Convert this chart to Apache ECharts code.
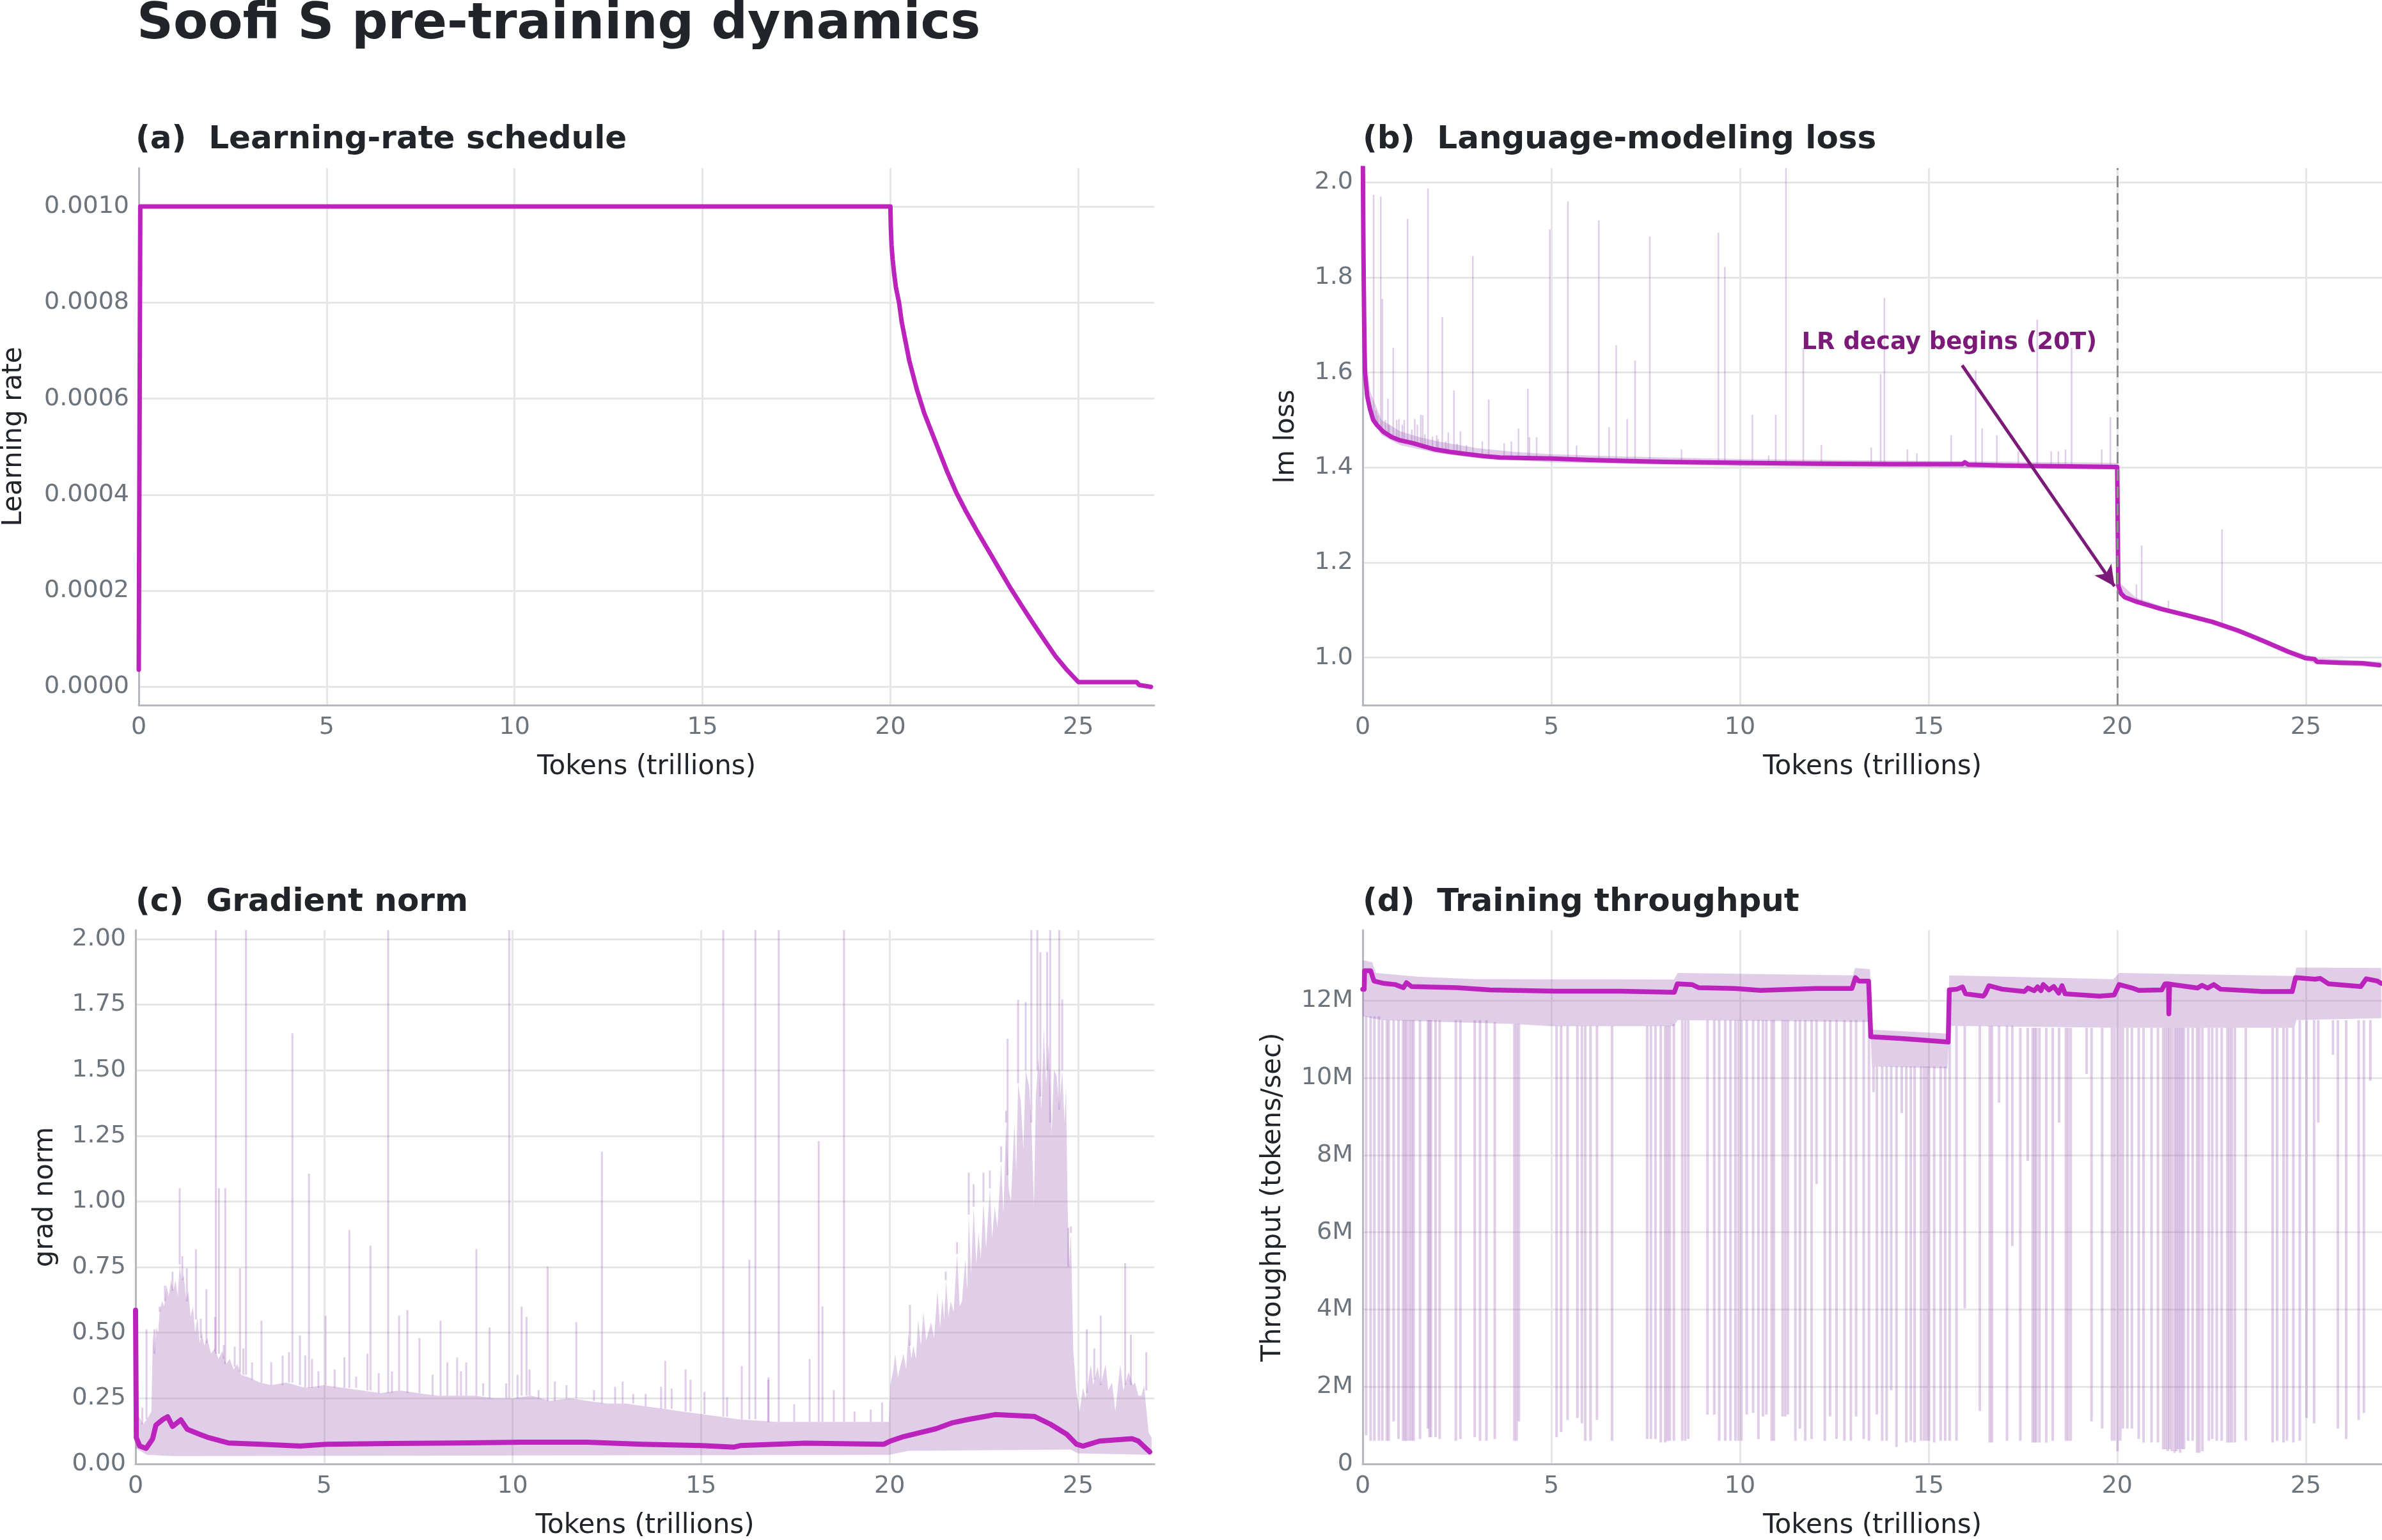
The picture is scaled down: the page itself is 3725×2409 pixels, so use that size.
<!DOCTYPE html>
<html>
<head>
<meta charset="utf-8">
<title>Soofi S pre-training dynamics</title>
<script src="https://cdn.jsdelivr.net/npm/echarts@6/dist/echarts.min.js"></script>
<style>
  html, body { margin: 0; padding: 0; background: #fff; }
  #chart { width: 3725px; height: 2409px; }
</style>
</head>
<body>
<div id="chart"></div>
<script>
// values, x in trillions of tokens

var xTicks = [0, 5, 10, 15, 20, 25];
var lrTicks = [0, 0.0002, 0.0004, 0.0006, 0.0008, 0.0010];
var lossTicks = [1.0, 1.2, 1.4, 1.6, 1.8, 2.0];
var gradTicks = [0, 0.25, 0.5, 0.75, 1.0, 1.25, 1.5, 1.75, 2.0];
var tputTicks = [0, 2, 4, 6, 8, 10, 12]; // millions of tokens/sec

// (a) learning rate
var lrCurve = [[0, 0.000036], [0.04, 0.001], [20.0, 0.001], [20.01, 0.00096], [20.03, 0.00092],
  [20.06, 0.00089], [20.1, 0.00086], [20.15, 0.00083], [20.23, 0.0008], [20.3, 0.00076],
  [20.4, 0.00072], [20.5, 0.00068], [20.7, 0.00062], [20.9, 0.00057], [21.2, 0.00051],
  [21.5, 0.00045], [21.75, 0.000405], [22.0, 0.000367], [22.3, 0.000325], [22.6, 0.000285],
  [22.9, 0.000245], [23.2, 0.000205], [23.5, 0.000168], [23.8, 0.000132], [24.1, 0.000097],
  [24.4, 0.000063], [24.7, 0.000035], [25.0, 0.00001], [26.55, 0.00001], [26.62, 0.000004],
  [26.93, 0.0]];

// (b) language-modeling loss
var lossCurve = [[0, 2.1], [0.02, 1.85], [0.04, 1.7], [0.06, 1.6], [0.12, 1.55], [0.19, 1.524],
  [0.28, 1.5], [0.38, 1.489], [0.55, 1.475], [0.77, 1.464], [1.0, 1.457], [1.34, 1.451],
  [1.6, 1.445], [1.92, 1.438], [2.3, 1.433], [2.69, 1.429], [3.2, 1.424], [3.65, 1.421],
  [4.3, 1.42], [5.0, 1.419], [6.0, 1.416], [6.92, 1.414], [8.0, 1.412], [9.0, 1.411],
  [10.0, 1.41], [12.0, 1.408], [14.0, 1.407], [15.9, 1.407], [15.96, 1.411], [16.05, 1.406],
  [17.0, 1.404], [18.0, 1.403], [19.0, 1.402], [20.0, 1.401], [20.03, 1.151], [20.1, 1.135],
  [20.2, 1.127], [20.5, 1.118], [21.18, 1.102], [21.85, 1.089], [22.53, 1.075], [23.2, 1.057],
  [23.88, 1.035], [24.55, 1.012], [24.99, 0.999], [25.23, 0.997], [25.3, 0.991], [25.9, 0.989],
  [26.5, 0.988], [26.95, 0.984]];
var lossBandPreUpper = [[0.05, 1.66], [0.2, 1.56], [0.5, 1.5], [1, 1.476], [1.5, 1.464], [2, 1.455],
  [3, 1.441], [4, 1.433], [5, 1.428], [7, 1.423], [10, 1.418], [15, 1.414], [20, 1.41]];
var lossBandPreLower = [[0.05, 1.58], [0.2, 1.51], [0.5, 1.468], [1, 1.447], [2, 1.43], [3, 1.42],
  [5, 1.411], [10, 1.403], [15, 1.4], [20, 1.396]];
var lossBandPostUpper = [[20.03, 1.16], [20.5, 1.126], [21.5, 1.1], [22.5, 1.08], [23.5, 1.053],
  [24.5, 1.018], [25, 1.006], [25.3, 0.999], [27, 0.991]];
var lossBandPostLower = [[20.03, 1.14], [20.5, 1.112], [21.5, 1.093], [22.5, 1.07], [23.5, 1.043],
  [24.5, 1.007], [25, 0.994], [25.3, 0.986], [27, 0.979]];
// [x, from, to]
var lossSpikes = [[0.29, 1.5, 1.974], [0.48, 1.475, 1.97], [0.52, 1.474, 1.755], [0.67, 1.468, 1.545],
  [0.81, 1.464, 1.652], [0.96, 1.459, 1.502], [1.19, 1.454, 1.923], [1.38, 1.451, 1.502],
  [1.54, 1.447, 1.511], [1.59, 1.446, 1.51], [1.73, 1.443, 1.987], [1.96, 1.438, 1.468],
  [2.11, 1.436, 1.717], [2.27, 1.434, 1.474], [2.42, 1.432, 1.562], [2.59, 1.43, 1.476],
  [2.92, 1.427, 1.845], [3.17, 1.425, 1.455], [3.34, 1.424, 1.543], [3.75, 1.421, 1.451],
  [3.94, 1.421, 1.455], [4.13, 1.42, 1.482], [4.38, 1.42, 1.566], [4.42, 1.42, 1.464],
  [4.61, 1.42, 1.464], [4.96, 1.419, 1.901], [5.44, 1.418, 1.96], [5.67, 1.418, 1.446],
  [6.26, 1.416, 1.92], [6.53, 1.415, 1.485], [6.72, 1.415, 1.657], [7.01, 1.414, 1.502],
  [7.22, 1.414, 1.625], [7.61, 1.413, 1.886], [8.45, 1.412, 1.438], [9.43, 1.411, 1.894],
  [9.6, 1.411, 1.822], [10.33, 1.41, 1.511], [10.76, 1.41, 1.425], [10.95, 1.41, 1.511],
  [11.22, 1.409, 2.1], [11.68, 1.409, 1.652], [12.16, 1.408, 1.448], [13.48, 1.407, 1.442],
  [13.73, 1.407, 1.597], [13.83, 1.407, 1.757], [14.44, 1.407, 1.438], [14.69, 1.407, 1.43],
  [15.6, 1.407, 1.468], [16.25, 1.406, 1.605], [16.42, 1.406, 1.482], [16.81, 1.405, 1.468],
  [17.38, 1.404, 1.434], [17.88, 1.404, 1.711], [18.25, 1.403, 1.434], [18.44, 1.403, 1.434],
  [18.63, 1.403, 1.438], [18.79, 1.402, 1.652], [19.59, 1.402, 1.438], [19.82, 1.401, 1.506],
  [0.35, 1.49, 1.52], [0.4, 1.485, 1.51], [0.6, 1.47, 1.5], [0.7, 1.466, 1.49], [0.9, 1.46, 1.5],
  [1.05, 1.456, 1.49], [1.1, 1.455, 1.5], [1.3, 1.452, 1.48], [1.45, 1.449, 1.49], [1.65, 1.445, 1.47],
  [1.85, 1.44, 1.465], [2.0, 1.437, 1.46], [2.2, 1.434, 1.455], [2.5, 1.431, 1.45], [2.75, 1.429, 1.447],
  [20.51, 1.118, 1.154], [20.65, 1.115, 1.236], [21.36, 1.1, 1.12], [22.78, 1.07, 1.27]];

// (c) gradient norm
var gradCurve = [[0, 0.586], [0.02, 0.1], [0.11, 0.068], [0.28, 0.059], [0.45, 0.095], [0.54, 0.148],
  [0.71, 0.168], [0.85, 0.18], [0.98, 0.143], [1.2, 0.168], [1.37, 0.132], [1.68, 0.114],
  [1.94, 0.1], [2.46, 0.08], [3.33, 0.075], [4.37, 0.068], [5.06, 0.075], [6.79, 0.078],
  [8.52, 0.08], [10.25, 0.083], [11.98, 0.083], [13.44, 0.075], [15.0, 0.07], [15.87, 0.064],
  [16.04, 0.07], [17.77, 0.079], [19.85, 0.075], [20.02, 0.087], [20.37, 0.104], [20.8, 0.119],
  [21.23, 0.134], [21.67, 0.157], [22.1, 0.17], [22.53, 0.181], [22.8, 0.188], [23.4, 0.184],
  [23.84, 0.181], [24.27, 0.151], [24.7, 0.113], [24.96, 0.075], [25.13, 0.068], [25.57, 0.087],
  [26.43, 0.096], [26.6, 0.087], [26.9, 0.046]];
var gradBandUpper = [[0, 0.12], [0.1, 0.18], [0.2, 0.15], [0.3, 0.17], [0.42, 0.2], [0.46, 0.5],
  [0.5, 0.42], [0.55, 0.52], [0.6, 0.5], [0.64, 0.58], [0.7, 0.62], [0.76, 0.6], [0.82, 0.68],
  [0.88, 0.64], [0.94, 0.7], [1.0, 0.66], [1.06, 0.7], [1.12, 0.64], [1.17, 0.76], [1.22, 0.7],
  [1.28, 0.72], [1.34, 0.62], [1.4, 0.66], [1.46, 0.56], [1.52, 0.6], [1.58, 0.5], [1.64, 0.56],
  [1.7, 0.46], [1.76, 0.5], [1.82, 0.45], [1.9, 0.48], [2.0, 0.42], [2.1, 0.44], [2.2, 0.4],
  [2.3, 0.43], [2.4, 0.38], [2.5, 0.4], [2.6, 0.36], [2.7, 0.38], [2.8, 0.34], [3.0, 0.33],
  [3.3, 0.31], [3.6, 0.3], [4.0, 0.31], [4.5, 0.29], [5.0, 0.3], [5.5, 0.29], [6.0, 0.28],
  [6.5, 0.27], [7.0, 0.28], [7.5, 0.27], [8.0, 0.26], [9.0, 0.26], [9.5, 0.25], [10.0, 0.25],
  [10.5, 0.26], [11.0, 0.24], [11.5, 0.25], [12.0, 0.24], [12.5, 0.23], [13.0, 0.23], [13.5, 0.22],
  [14.0, 0.21], [14.5, 0.2], [15.0, 0.19], [15.5, 0.18], [16.0, 0.17], [17.0, 0.16], [19.0, 0.16],
  [19.98, 0.16], [20.02, 0.3], [20.1, 0.36], [20.15, 0.42], [20.22, 0.33], [20.3, 0.38],
  [20.37, 0.42], [20.44, 0.36], [20.5, 0.5], [20.58, 0.4], [20.63, 0.45], [20.7, 0.4], [20.76, 0.55],
  [20.83, 0.45], [20.9, 0.58], [20.97, 0.47], [21.1, 0.54], [21.18, 0.48], [21.27, 0.66],
  [21.34, 0.52], [21.4, 0.63], [21.45, 0.55], [21.5, 0.7], [21.56, 0.56], [21.62, 0.62], [21.7, 0.58],
  [21.79, 0.8], [21.86, 0.6], [21.92, 0.62], [22.01, 0.78], [22.06, 0.66], [22.1, 0.95], [22.16, 0.72],
  [22.23, 0.98], [22.3, 0.76], [22.36, 0.88], [22.42, 0.78], [22.49, 1.0], [22.56, 0.82], [22.66, 1.05],
  [22.72, 0.86], [22.79, 0.98], [22.86, 0.9], [22.96, 1.15], [23.02, 0.95], [23.09, 1.3], [23.16, 1.05],
  [23.22, 1.0], [23.31, 1.3], [23.36, 1.12], [23.41, 1.45], [23.48, 1.38], [23.55, 1.2], [23.61, 1.5],
  [23.7, 1.44], [23.76, 1.3], [23.83, 0.98], [23.88, 1.4], [23.95, 1.55], [24.03, 1.35], [24.09, 1.66],
  [24.15, 1.45], [24.22, 1.6], [24.3, 1.26], [24.36, 1.5], [24.43, 1.48], [24.5, 1.35], [24.58, 1.5],
  [24.64, 1.3], [24.68, 1.44], [24.72, 1.0], [24.76, 0.75], [24.81, 0.88], [24.87, 0.44], [24.95, 0.28],
  [25.04, 0.2], [25.13, 0.29], [25.2, 0.25], [25.34, 0.38], [25.4, 0.3], [25.52, 0.37], [25.6, 0.3],
  [25.73, 0.38], [25.8, 0.28], [25.9, 0.31], [25.99, 0.2], [26.06, 0.3], [26.12, 0.38], [26.2, 0.28],
  [26.34, 0.35], [26.45, 0.3], [26.51, 0.31], [26.6, 0.26], [26.68, 0.26], [26.75, 0.3], [26.87, 0.12],
  [26.95, 0.1]];
var gradBandLower = [[0, 0.06], [0.3, 0.035], [1, 0.03], [20, 0.035], [20.5, 0.05], [24.8, 0.055],
  [25, 0.04], [26.95, 0.035]];
var gradSpikes = [[2.13, 0.42, 2.2], [2.93, 0.34, 2.2], [6.7, 0.27, 2.2], [9.91, 0.25, 2.2],
  [15.59, 0.18, 2.2], [16.44, 0.17, 2.2], [17.06, 0.16, 2.2], [18.79, 0.16, 2.2],
  [1.17, 0.76, 1.051], [1.24, 0.7, 0.792], [1.6, 0.55, 0.818], [2.21, 0.42, 1.051],
  [2.38, 0.38, 1.051], [2.77, 0.35, 0.745], [3.34, 0.31, 0.546], [4.16, 0.31, 1.641],
  [4.36, 0.3, 0.49], [4.6, 0.29, 1.106], [5.04, 0.3, 0.565], [5.67, 0.29, 0.891],
  [6.23, 0.28, 0.832], [6.99, 0.28, 0.565], [7.21, 0.27, 0.586], [8.09, 0.26, 0.546],
  [9.04, 0.26, 0.819], [9.39, 0.25, 0.52], [10.24, 0.26, 0.6], [10.37, 0.26, 0.56],
  [10.93, 0.24, 0.752], [11.69, 0.25, 0.54], [12.37, 0.23, 1.19], [16.28, 0.17, 0.778],
  [16.79, 0.16, 0.33], [17.88, 0.16, 0.4], [18.12, 0.16, 1.23], [18.22, 0.16, 0.6],
  [0.18, 0.15, 0.214], [0.29, 0.17, 0.513], [0.5, 0.42, 0.513], [0.64, 0.58, 0.6],
  [0.78, 0.62, 0.679], [0.98, 0.66, 0.732], [1.36, 0.62, 0.745], [1.73, 0.48, 0.553],
  [1.88, 0.46, 0.666], [2.11, 0.43, 0.56], [2.34, 0.4, 0.453], [2.63, 0.37, 0.447],
  [2.86, 0.34, 0.44], [3.09, 0.32, 0.387], [3.6, 0.3, 0.387], [3.9, 0.3, 0.413],
  [4.07, 0.31, 0.426], [4.5, 0.29, 0.413], [4.68, 0.29, 0.4], [4.85, 0.29, 0.353], [5.28, 0.29, 0.36],
  [5.54, 0.29, 0.406], [5.85, 0.29, 0.333], [6.15, 0.28, 0.42], [6.45, 0.27, 0.346],
  [6.8, 0.27, 0.353], [7.53, 0.27, 0.48], [7.88, 0.26, 0.34], [8.27, 0.26, 0.387],
  [8.53, 0.26, 0.406], [8.63, 0.26, 0.353], [8.77, 0.26, 0.387], [9.22, 0.26, 0.307],
  [9.83, 0.25, 0.307], [10.13, 0.25, 0.34], [10.45, 0.26, 0.36], [10.69, 0.25, 0.281],
  [11.12, 0.24, 0.314], [11.43, 0.25, 0.3], [12.16, 0.24, 0.281], [12.72, 0.23, 0.294],
  [12.92, 0.23, 0.314], [13.2, 0.23, 0.267], [13.53, 0.22, 0.267], [13.94, 0.21, 0.294],
  [14.05, 0.21, 0.393], [14.22, 0.21, 0.287], [14.59, 0.2, 0.36], [14.72, 0.2, 0.321],
  [15.09, 0.19, 0.274], [15.69, 0.18, 0.254], [16.08, 0.17, 0.373], [16.78, 0.16, 0.321],
  [17.47, 0.16, 0.227], [18.52, 0.16, 0.281], [19.07, 0.16, 0.2], [19.5, 0.16, 0.207],
  [19.8, 0.16, 0.234],
  [20.54, 0.45, 0.606], [21.49, 0.7, 0.733], [21.79, 0.8, 0.845], [22.1, 0.95, 1.11],
  [22.23, 0.98, 1.066], [22.49, 1.0, 1.11], [22.66, 1.05, 1.118], [22.96, 1.15, 1.21],
  [23.09, 1.3, 1.345], [23.13, 1.1, 1.62], [23.41, 1.45, 1.768], [23.61, 1.5, 1.76],
  [23.76, 1.3, 2.2], [23.92, 1.5, 2.2], [24.0, 1.4, 1.95], [24.18, 1.5, 1.95],
  [24.26, 1.3, 2.2], [24.5, 1.35, 2.2], [24.58, 1.5, 1.77], [24.74, 0.9, 0.752], [24.81, 0.88, 0.905],
  [25.23, 0.27, 0.513], [25.43, 0.32, 0.44], [25.6, 0.3, 0.565], [26.25, 0.3, 0.765],
  [26.4, 0.3, 0.493], [26.81, 0.28, 0.426]];

// (d) throughput, millions of tokens/sec
var tputCurve = [[0, 12.3], [0.04, 12.3], [0.05, 12.78], [0.21, 12.78], [0.3, 12.51], [0.56, 12.45],
  [0.86, 12.42], [1.08, 12.34], [1.16, 12.47], [1.29, 12.37], [2.5, 12.34], [3.37, 12.28],
  [5.1, 12.25], [6.83, 12.25], [8.26, 12.22], [8.34, 12.44], [8.73, 12.42], [8.9, 12.34],
  [9.86, 12.32], [10.55, 12.27], [12.02, 12.32], [12.97, 12.32], [13.06, 12.6], [13.15, 12.51],
  [13.41, 12.51], [13.47, 11.07], [14.33, 11.02], [15.52, 10.93], [15.55, 12.28], [15.75, 12.3],
  [15.9, 12.36], [15.98, 12.18], [16.45, 12.12], [16.5, 12.18], [16.6, 12.39], [16.95, 12.3],
  [17.54, 12.24], [17.63, 12.33], [17.8, 12.26], [17.89, 12.36], [17.98, 12.26], [18.04, 12.42],
  [18.19, 12.28], [18.32, 12.37], [18.45, 12.2], [18.54, 12.39], [18.62, 12.18], [19.53, 12.12],
  [19.92, 12.15], [20.05, 12.42], [20.4, 12.33], [20.57, 12.27], [21.18, 12.28], [21.27, 12.44],
  [21.36, 12.44], [21.37, 11.66], [21.39, 12.43], [22.13, 12.33], [22.25, 12.4], [22.4, 12.33],
  [22.56, 12.42], [22.74, 12.3], [23.86, 12.24], [24.64, 12.24], [24.73, 12.6], [25.25, 12.56],
  [25.38, 12.58], [25.6, 12.44], [26.46, 12.37], [26.6, 12.57], [26.9, 12.51], [27.0, 12.45]];
var tputBandUpper = [[0, 13.05], [0.25, 13.0], [0.35, 12.72], [1.5, 12.62], [3, 12.56], [8.25, 12.55],
  [8.35, 12.72], [13.0, 12.66], [13.05, 12.85], [13.45, 12.82], [13.5, 11.25], [15.5, 11.15],
  [15.55, 12.66], [19.9, 12.56], [20.05, 12.72], [24.7, 12.64], [24.75, 12.86], [27.0, 12.85]];
var tputBandLower = [[0, 11.6], [0.5, 11.5], [4, 11.4], [5, 11.34], [8.25, 11.34], [8.35, 11.5],
  [13.45, 11.45], [13.5, 10.3], [15.5, 10.25], [15.55, 11.35], [20, 11.3], [24.7, 11.3],
  [24.75, 11.5], [27.0, 11.55]];
var tputSpikes = [[0.09, 0.74, 11.6], [0.21, 0.6, 11.6], [0.31, 0.6, 11.6], [0.43, 0.6, 11.6],
  [0.52, 0.6, 11.5], [0.64, 0.6, 11.5], [0.69, 0.6, 11.5], [0.82, 1.1, 11.5], [0.95, 0.645, 11.5],
  [1.07, 0.6, 11.5], [1.12, 0.6, 11.5], [1.17, 0.6, 11.5], [1.24, 0.6, 11.5], [1.3, 0.6, 11.5],
  [1.35, 0.6, 11.5], [1.52, 0.645, 11.5], [1.73, 0.916, 11.5], [1.77, 0.69, 11.5], [1.81, 0.69, 11.5],
  [1.93, 0.69, 11.5], [2.04, 0.645, 11.5], [2.47, 0.6, 11.5], [2.59, 0.645, 11.5], [2.97, 0.69, 11.5],
  [3.11, 0.6, 11.5], [3.28, 0.6, 11.5], [3.5, 0.645, 11.45], [4.02, 0.6, 11.4], [4.08, 0.6, 11.4],
  [4.14, 1.1, 11.4], [5.14, 0.69, 11.35], [5.26, 0.825, 11.35], [5.43, 1.14, 11.35], [5.69, 1.19, 11.35],
  [5.81, 1.05, 11.35], [5.9, 0.6, 11.35], [6.04, 0.6, 11.35], [6.21, 1.14, 11.35], [6.61, 0.6, 11.35],
  [7.54, 0.645, 11.35], [7.64, 0.645, 11.35], [7.76, 0.645, 11.35], [7.9, 0.556, 11.35],
  [8.02, 0.556, 11.35], [8.08, 0.6, 11.35], [8.14, 0.6, 11.35], [8.25, 0.6, 11.4], [8.47, 0.6, 11.5],
  [8.55, 0.6, 11.5], [8.63, 0.645, 11.5], [9.14, 1.28, 11.5], [9.32, 1.28, 11.5], [9.45, 0.6, 11.5],
  [9.61, 0.6, 11.5], [9.75, 0.6, 11.5], [9.88, 0.6, 11.5], [9.96, 0.6, 11.5], [10.04, 0.6, 11.5],
  [10.18, 1.28, 11.5], [10.35, 1.32, 11.5], [10.49, 0.645, 11.5], [10.61, 1.23, 11.5], [10.7, 1.28, 11.5],
  [10.84, 0.6, 11.5], [10.9, 0.6, 11.5], [11.13, 1.23, 11.5], [11.2, 1.23, 11.5], [11.27, 1.28, 11.5],
  [11.47, 0.6, 11.5], [11.59, 0.916, 11.5], [11.73, 0.6, 11.5], [11.9, 0.645, 11.5], [12.03, 7.25, 11.5],
  [12.25, 0.6, 11.5], [12.39, 1.23, 11.5], [12.56, 0.645, 11.5], [12.77, 0.6, 11.5], [12.94, 0.6, 11.5],
  [13.08, 1.23, 11.5], [13.28, 0.645, 11.5], [13.42, 0.6, 11.5],
  [13.54, 9.63, 10.3], [13.63, 1.28, 10.3], [13.77, 0.6, 10.3], [13.89, 0.6, 10.3], [14.01, 1.91, 10.3],
  [14.15, 0.44, 10.3], [14.29, 9.09, 10.3], [14.41, 0.556, 10.3], [14.53, 0.6, 10.3], [14.63, 0.556, 10.3],
  [14.8, 0.6, 10.3], [14.88, 0.6, 10.3], [14.95, 0.6, 10.3], [15.01, 0.6, 10.3], [15.15, 0.556, 10.3],
  [15.32, 0.6, 10.3], [15.44, 0.6, 10.3],
  [15.56, 0.6, 11.35], [15.74, 0.6, 11.35], [15.96, 4.03, 11.35], [16.36, 1.37, 11.35], [16.62, 0.556, 11.35],
  [16.68, 0.556, 11.35], [16.87, 9.36, 11.35], [17.08, 0.6, 11.35], [17.22, 5.65, 11.35], [17.43, 0.6, 11.3],
  [17.63, 7.85, 11.3], [17.76, 0.556, 11.3], [17.81, 0.556, 11.3], [17.86, 0.556, 11.3], [17.94, 0.556, 11.3],
  [18.12, 0.556, 11.3], [18.29, 0.6, 11.3], [18.46, 8.84, 11.3], [18.64, 0.6, 11.3], [18.7, 0.6, 11.3],
  [18.77, 0.6, 11.3], [19.19, 10.1, 11.3], [19.32, 1.1, 11.3], [19.6, 0.916, 11.3], [19.86, 0.6, 11.3],
  [19.93, 0.6, 11.3], [20.01, 0.33, 11.3], [20.08, 0.6, 11.3], [20.15, 0.916, 11.3], [20.27, 0.916, 11.3],
  [20.39, 0.916, 11.3], [20.57, 0.645, 11.3], [20.7, 0.556, 11.3], [20.91, 0.556, 11.3], [21.08, 0.556, 11.3],
  [21.22, 0.38, 11.3], [21.28, 0.38, 11.3], [21.34, 0.33, 11.3], [21.39, 0.38, 11.3], [21.45, 0.33, 11.3],
  [21.52, 0.29, 11.3], [21.57, 0.33, 11.3], [21.62, 0.38, 11.3], [21.67, 0.29, 11.3], [21.72, 0.38, 11.3],
  [21.77, 0.38, 11.3], [21.88, 0.6, 11.3], [22.0, 0.6, 11.3], [22.12, 0.29, 11.3], [22.18, 0.29, 11.3],
  [22.26, 0.33, 11.3], [22.43, 0.6, 11.3], [22.52, 0.645, 11.3], [22.64, 0.6, 11.3], [22.77, 0.6, 11.3],
  [22.92, 0.556, 11.3], [22.98, 0.556, 11.3], [23.04, 0.556, 11.3], [23.12, 0.556, 11.3], [23.41, 0.6, 11.3],
  [24.12, 0.556, 11.3], [24.24, 0.6, 11.3], [24.41, 0.556, 11.3], [24.5, 0.6, 11.3], [24.67, 0.556, 11.3],
  [24.84, 0.6, 11.5], [25.02, 1.19, 11.5], [25.22, 1.05, 11.5], [25.33, 8.84, 11.5], [25.72, 10.6, 11.5],
  [25.85, 0.916, 11.5], [26.07, 0.645, 11.5], [26.4, 1.14, 11.5], [26.54, 1.32, 11.5], [26.71, 9.93, 11.5]];

// ---- styling ----
var FONT = 'DejaVu Sans';
var MAIN = '#BC22BC';
var RAW = 'rgba(160, 100, 185, 0.32)';
var ANNOT = '#7B1A78';
var TICK = '#6C757D';
var DARK = '#212529';
var SPINE = '#B5B9BE';
var GRIDC = '#E6E6E6';

function xAxisFor(i) {
  return {
    gridIndex: i, type: 'value', min: 0, max: 27.02,
    name: 'Tokens (trillions)', nameLocation: 'middle', nameGap: 76,
    nameTextStyle: { fontSize: 42, color: DARK, fontFamily: FONT },
    axisLine: { show: true, onZero: false, lineStyle: { color: SPINE, width: 3 } },
    axisTick: { show: false, customValues: xTicks },
    axisLabel: { customValues: xTicks, fontSize: 38, color: TICK, margin: 16, fontFamily: FONT },
    splitLine: { show: true, lineStyle: { color: GRIDC, width: 3 } }
  };
}

function yAxisFor(i, min, max, ticks, name, gap, fmt) {
  return {
    gridIndex: i, type: 'value', min: min, max: max,
    name: name, nameLocation: 'middle', nameRotate: 90, nameGap: gap,
    nameTextStyle: { fontSize: 42, color: DARK, fontFamily: FONT },
    axisLine: { show: true, onZero: false, lineStyle: { color: SPINE, width: 3 } },
    axisTick: { show: false, customValues: ticks },
    axisLabel: { customValues: ticks, fontSize: 38, color: TICK, margin: 15, fontFamily: FONT, formatter: fmt },
    splitLine: { show: true, lineStyle: { color: GRIDC, width: 3 } }
  };
}

function bandSeries(idx, parts) {
  return {
    type: 'custom', xAxisIndex: idx, yAxisIndex: idx, data: [[0, 0]], clip: true, silent: true, z: 1,
    renderItem: function (params, api) {
      var kids = parts.map(function (part) {
        var pts = part[0].map(function (p) { return api.coord(p); });
        for (var k = part[1].length - 1; k >= 0; k--) pts.push(api.coord(part[1][k]));
        return { type: 'polygon', shape: { points: pts }, style: { fill: RAW } };
      });
      return { type: 'group', children: kids };
    }
  };
}

function spikeSeries(idx, data, w) {
  return {
    type: 'custom', xAxisIndex: idx, yAxisIndex: idx, data: data, clip: true, silent: true, z: 2,
    encode: { x: 0, y: [1, 2] },
    renderItem: function (params, api) {
      var a = api.coord([api.value(0), api.value(1)]);
      var b = api.coord([api.value(0), api.value(2)]);
      return { type: 'line', shape: { x1: a[0], y1: a[1], x2: b[0], y2: b[1] }, style: { stroke: RAW, lineWidth: w } };
    }
  };
}

function mainLine(idx, data, w) {
  return {
    type: 'line', xAxisIndex: idx, yAxisIndex: idx, data: data, showSymbol: false, symbol: 'none',
    silent: true, z: 3, lineStyle: { color: MAIN, width: w, join: 'round', cap: 'round' }
  };
}

var lossSeries = mainLine(1, lossCurve, 7);
lossSeries.markLine = {
  silent: true, animation: false, symbol: ['none', 'none'], label: { show: false },
  data: [
    [{ coord: [20, 0.9], lineStyle: { color: '#8C8C8C', width: 3, type: [18, 9] } }, { coord: [20, 2.03] }],
    [{ coord: [15.89, 1.615], symbol: 'none', lineStyle: { color: ANNOT, width: 5, type: 'solid', curveness: -0.06 } },
     { coord: [19.93, 1.15], symbol: 'arrow', symbolSize: [24, 32] }]
  ]
};
lossSeries.markPoint = {
  silent: true, animation: false,
  data: [{
    coord: [15.55, 1.662], symbol: 'circle', symbolSize: 1, itemStyle: { color: 'rgba(0,0,0,0)' },
    label: { show: true, position: 'inside', formatter: 'LR decay begins (20T)', fontSize: 37,
      fontWeight: 'bold', color: ANNOT, fontFamily: FONT }
  }]
};

function title(x, y, text, size) {
  return { type: 'text', x: x, y: y, silent: true,
    style: { text: text, fill: DARK, font: 'bold ' + size + 'px "DejaVu Sans"', align: 'left', verticalAlign: 'middle' } };
}

var option = {
  animation: false,
  backgroundColor: '#ffffff',
  textStyle: { fontFamily: FONT },
  graphic: [
    title(214, 39, 'Soofi S pre-training dynamics', 79),
    title(212, 219, '(a)  Learning-rate schedule', 50),
    title(2131, 219, '(b)  Language-modeling loss', 50),
    title(212, 1412, '(c)  Gradient norm', 50),
    title(2131, 1412, '(d)  Training throughput', 50)
  ],
  grid: [
    { left: 212, top: 263, width: 1593, height: 840 },
    { left: 2131, top: 263, width: 1594, height: 840 },
    { left: 212, top: 1455, width: 1593, height: 841 },
    { left: 2131, top: 1455, width: 1594, height: 841 }
  ],
  xAxis: [xAxisFor(0), xAxisFor(1), xAxisFor(2), xAxisFor(3)],
  yAxis: [
    yAxisFor(0, -0.000038, 0.00108, lrTicks, 'Learning rate', 174, function (v) { return v.toFixed(4); }),
    yAxisFor(1, 0.9, 2.03, lossTicks, 'lm loss', 98, function (v) { return v.toFixed(1); }),
    yAxisFor(2, 0, 2.034, gradTicks, 'grad norm', 120, function (v) { return v.toFixed(2); }),
    yAxisFor(3, 0, 13.83, tputTicks, 'Throughput (tokens/sec)', 119, function (v) { return v === 0 ? '0' : v + 'M'; })
  ],
  series: [
    mainLine(0, lrCurve, 7),
    bandSeries(1, [[lossBandPreUpper, lossBandPreLower], [lossBandPostUpper, lossBandPostLower]]),
    spikeSeries(1, lossSpikes, 2.5),
    lossSeries,
    bandSeries(2, [[gradBandUpper, gradBandLower]]),
    spikeSeries(2, gradSpikes, 3),
    mainLine(2, gradCurve, 8),
    bandSeries(3, [[tputBandUpper, tputBandLower]]),
    spikeSeries(3, tputSpikes, 4),
    mainLine(3, tputCurve, 7.5)
  ]
};

var chart = echarts.init(document.getElementById('chart'), null, { renderer: 'canvas' });
chart.setOption(option);
</script>
</body>
</html>
